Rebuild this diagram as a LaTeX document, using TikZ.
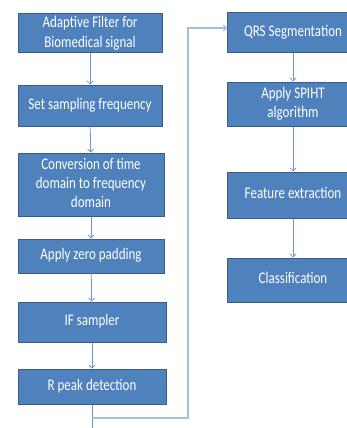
\documentclass[tikz,border=0pt]{standalone}
\usepackage{fontspec}
\setmainfont{Carlito}
\usetikzlibrary{arrows.meta}
\definecolor{boxfill}{HTML}{4F81BD}
\definecolor{boxline}{HTML}{385D8A}
\definecolor{linkc}{HTML}{6F95CC}
\definecolor{linklight}{HTML}{A4BEE2}
\newcommand{\stxt}[1]{\scalebox{1}[1.25]{\fontsize{13}{15.5}\selectfont\begin{tabular}{@{}c@{}}#1\end{tabular}}}
\tikzset{
  stepbox/.style={draw=boxline, line width=1pt, fill=boxfill, text=white, align=center,
    inner sep=0pt},
  link/.style={draw=linkc, line width=0.8pt, -{Straight Barb[length=3pt,width=6pt]}},
  longlink/.style={draw=linklight, line width=1.2pt, -{Straight Barb[length=3pt,width=6pt]}}
}
\begin{document}
\begin{tikzpicture}[x=1pt,y=-1pt]
\useasboundingbox (0,0) rectangle (347,428);
\clip (0,0) rectangle (347,428);
\node[stepbox, minimum width=144pt, minimum height=39pt] (a1) at (90,33.5) {\stxt{Adaptive Filter for\\Biomedical signal}};
\node[stepbox, minimum width=144pt, minimum height=41pt] (a2) at (90,105.5) {\stxt{Set sampling frequency}};
\node[stepbox, minimum width=146pt, minimum height=63pt] (a3) at (91,184.5) {\stxt{Conversion of time\\domain to frequency\\domain}};
\node[stepbox, minimum width=146pt, minimum height=34pt] (a4) at (91,256) {\stxt{Apply zero padding}};
\node[stepbox, minimum width=148pt, minimum height=40pt] (a5) at (92,322) {\stxt{IF sampler}};
\node[stepbox, minimum width=148pt, minimum height=35pt] (a6) at (92,386.5) {\stxt{R peak detection}};
\node[stepbox, minimum width=132pt, minimum height=40pt] (b1) at (293,33) {\stxt{QRS Segmentation}};
\node[stepbox, minimum width=132pt, minimum height=44pt] (b2) at (293,104) {\stxt{Apply SPIHT\\algorithm}};
\node[stepbox, minimum width=132pt, minimum height=46pt] (b3) at (293,195) {\stxt{Feature extraction}};
\node[stepbox, minimum width=132pt, minimum height=44pt] (b4) at (293,280) {\stxt{Classification}};
\draw[link] (a1) -- (a2);
\draw[link] (a2) -- (a3);
\draw[link] (a3) -- (a4);
\draw[link] (a4) -- (a5);
\draw[link] (a5) -- (a6);
\draw[link] (b1) -- (b2);
\draw[link] (b2) -- (b3);
\draw[link] (b3) -- (b4);
\coordinate (down) at (92,432);
\coordinate (turn) at (92,418);
\coordinate (b1in) at (227,28);
\draw[link] (a6) -- (down);
\draw[longlink] (turn) -- (188,418) -- (188,28) -- (b1in);
\end{tikzpicture}
\end{document}
